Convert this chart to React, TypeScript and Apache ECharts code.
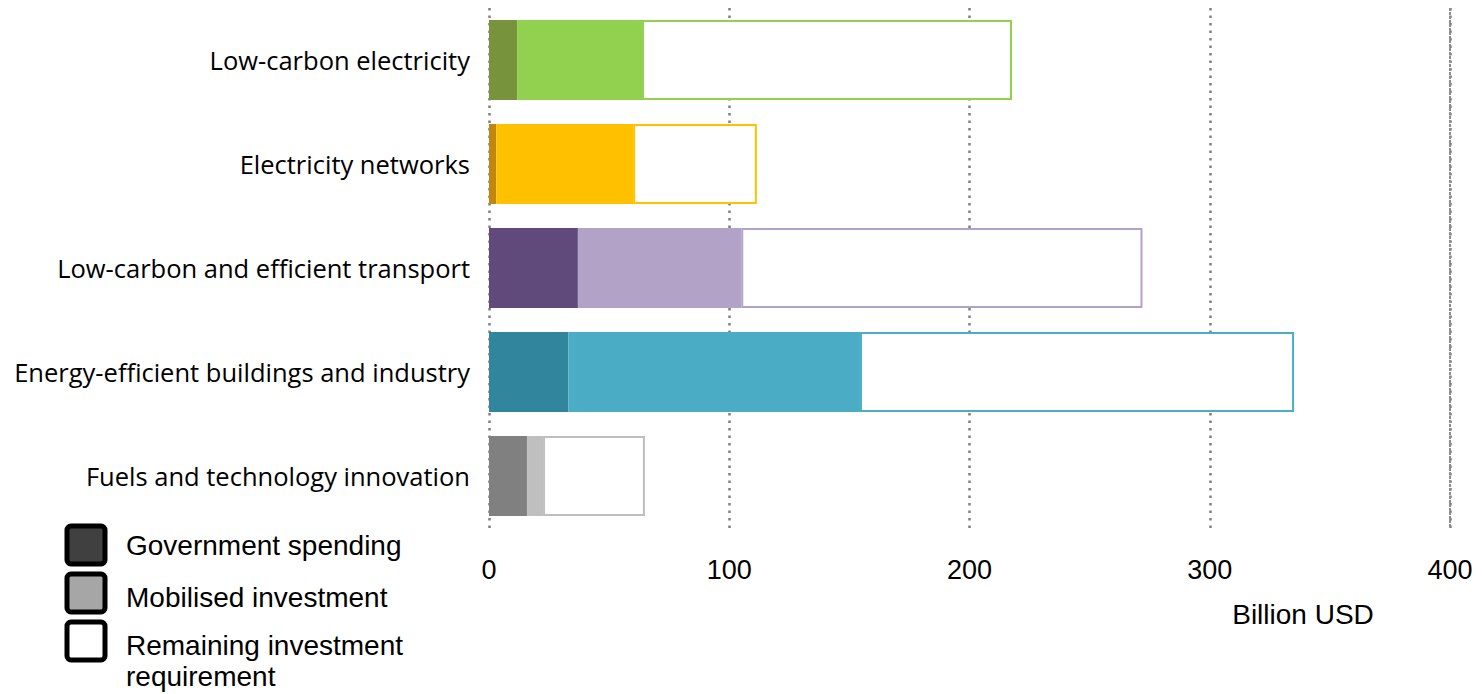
import React, { useEffect, useRef } from "react";
import * as echarts from "echarts";

// Sectors, top to bottom
const categories = [
  "Low-carbon electricity",
  "Electricity networks",
  "Low-carbon and efficient transport",
  "Energy-efficient buildings and industry",
  "Fuels and technology innovation",
];

// Billion USD per segment (stacked left to right)
const governmentSpending = [11.7, 3, 37, 33, 15.8];
const mobilisedInvestment = [52, 57, 68, 121.4, 6.7];
const remainingRequirement = [154, 51.5, 167, 180.7, 42.4];

// Per-sector palette: dark shade, light shade (also used as outline)
const darkColors = ["#77933c", "#c0860d", "#604a7b", "#31859c", "#808080"];
const lightColors = ["#92d050", "#ffc000", "#b3a2c7", "#4bacc6", "#bfbfbf"];

const xTicks = [0, 100, 200, 300, 400];

const legendItems = [
  { name: "Government spending", fill: "#404040" },
  { name: "Mobilised investment", fill: "#a6a6a6" },
  { name: "Remaining investment\nrequirement", fill: "#ffffff" },
];

const LABEL_FONT = "'Open Sans', 'Noto Sans', sans-serif";
const ARIAL = "'Liberation Sans', Arial, sans-serif";

export default function App() {
  const ref = useRef<HTMLDivElement>(null);

  useEffect(() => {
    if (!ref.current) return;
    const chart = echarts.init(ref.current, null, { renderer: "svg" });

    // Hand-built legend: thick-outlined swatches with labels
    const legendGraphics: any[] = [];
    const textY = [545, 597, 630];
    legendItems.forEach((item, i) => {
      const top = 526 + i * 48;
      legendGraphics.push({
        type: "rect",
        shape: { x: 67, y: top, width: 38, height: 38, r: 4 },
        style: { fill: item.fill, stroke: "#000", lineWidth: 5 },
      });
      legendGraphics.push({
        type: "text",
        x: 126,
        y: textY[i],
        style: {
          text: item.name,
          fill: "#000",
          font: `28px ${ARIAL}`,
          verticalAlign: i === 2 ? "top" : "middle",
          lineHeight: 31,
        },
      });
    });

    chart.setOption({
      animation: false,
      backgroundColor: "#ffffff",
      grid: { left: 489, right: 34, top: 8, bottom: 166, containLabel: false },
      xAxis: {
        type: "value",
        min: xTicks[0],
        max: xTicks[xTicks.length - 1],
        interval: 100,
        axisLine: { show: false },
        axisTick: { show: false },
        axisLabel: {
          margin: 28,
          fontSize: 27,
          color: "#000",
          fontFamily: ARIAL,
        },
        splitLine: {
          show: true,
          lineStyle: { color: "#7f7f7f", width: 2.5, type: [2.5, 5] },
        },
      },
      yAxis: {
        type: "category",
        data: categories,
        inverse: true,
        axisLine: { show: false },
        axisTick: { show: false },
        axisLabel: {
          margin: 19,
          fontSize: 25.5,
          color: "#000",
          fontFamily: LABEL_FONT,
        },
      },
      series: [
        {
          name: "Government spending",
          type: "bar",
          stack: "total",
          barWidth: 80,
          data: governmentSpending.map((v, i) => ({
            value: v,
            itemStyle: { color: darkColors[i] },
          })),
        },
        {
          name: "Mobilised investment",
          type: "bar",
          stack: "total",
          barWidth: 80,
          data: mobilisedInvestment.map((v, i) => ({
            value: v,
            itemStyle: { color: lightColors[i] },
          })),
        },
        {
          name: "Remaining investment requirement",
          type: "bar",
          stack: "total",
          barWidth: 80,
          data: remainingRequirement.map((v, i) => ({
            value: v,
            itemStyle: {
              color: "#ffffff",
              borderColor: lightColors[i],
              borderWidth: 2,
            },
          })),
          markLine: {
            silent: true,
            symbol: "none",
            label: { show: false },
            lineStyle: { color: "#8c8c8c", width: 2, type: [3, 1] },
            data: [{ xAxis: 400 }],
          },
        },
      ],
      graphic: [
        ...legendGraphics,
        {
          type: "text",
          x: 1303,
          y: 614,
          style: {
            text: "Billion USD",
            fill: "#000",
            font: `28px ${ARIAL}`,
            align: "center",
            verticalAlign: "middle",
          },
        },
      ],
    });

    return () => chart.dispose();
  }, []);

  return (
    <div
      ref={ref}
      style={{ position: "fixed", left: 0, top: 0, width: 1484, height: 694 }}
    />
  );
}
